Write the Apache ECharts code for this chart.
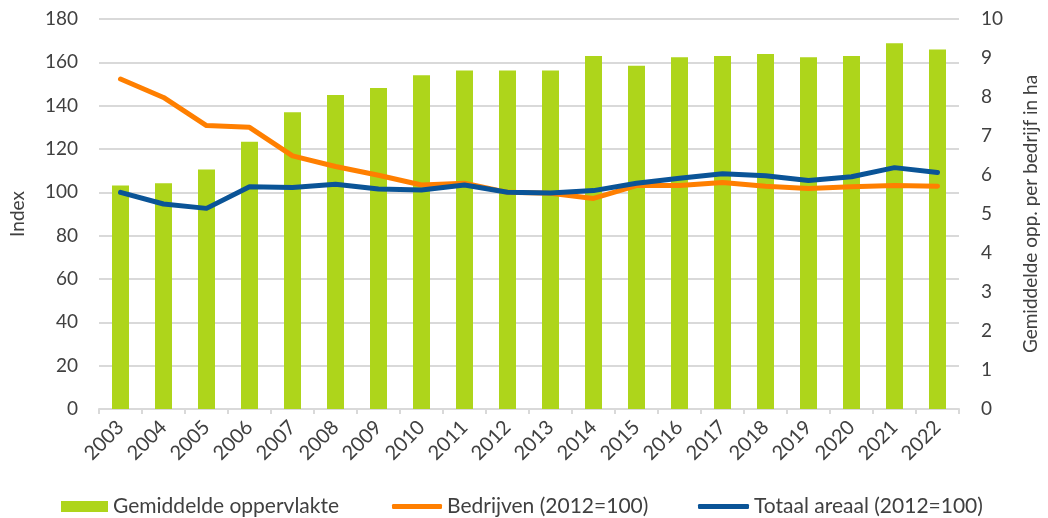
<!DOCTYPE html>
<html>
<head>
<meta charset="utf-8">
<script src="https://cdn.jsdelivr.net/npm/echarts@6/dist/echarts.min.js"></script>
<style>
  html, body { margin: 0; padding: 0; background: #fff; }
  #chart { width: 1048px; height: 518px; }
</style>
</head>
<body>
<div id="chart"></div>
<script>
// Years on the category axis
const years = ['2003','2004','2005','2006','2007','2008','2009','2010','2011','2012',
               '2013','2014','2015','2016','2017','2018','2019','2020','2021','2022'];

// Average area per farm in hectares (right axis)
const gemiddeldeOppervlakte = [5.73, 5.79, 6.14, 6.85, 7.61, 8.05, 8.23, 8.56, 8.68, 8.68,
                               8.68, 9.05, 8.80, 9.02, 9.05, 9.10, 9.02, 9.05, 9.38, 9.22];

// Number of farms, index 2012 = 100 (left axis)
const bedrijven = [152.3, 143.8, 130.8, 130.0, 116.8, 111.9, 107.9, 103.4, 104.2, 100.0,
                   99.6, 97.2, 103.1, 103.1, 104.5, 102.8, 101.8, 102.6, 103.2, 102.8];

// Total area, index 2012 = 100 (left axis)
const totaalAreaal = [100.0, 94.6, 92.6, 102.6, 102.2, 103.7, 101.5, 101.1, 103.4, 100.0,
                      99.7, 100.8, 104.2, 106.5, 108.6, 107.7, 105.5, 107.2, 111.4, 109.2];

const textColor = '#404040';
const fontFamily = 'Lato, "Open Sans", sans-serif';
const green = '#AED51B';
const orange = '#FF7F00';
const blue = '#0A5497';

const chart = echarts.init(document.getElementById('chart'), null, { renderer: 'canvas' });

const legendText = { color: textColor, fontSize: 21, fontFamily: fontFamily };

chart.setOption({
  animation: false,
  textStyle: { fontFamily: fontFamily, color: textColor },
  grid: { left: 97, right: 85, top: 19, bottom: 109, containLabel: false },
  legend: [
    { data: [{ name: 'Gemiddelde oppervlakte', icon: 'rect' }], left: 56, top: 491,
      itemWidth: 47, itemHeight: 11, textStyle: legendText },
    { data: [{ name: 'Bedrijven (2012=100)', icon: 'roundRect' }], left: 387, top: 491,
      itemWidth: 50, itemHeight: 5, textStyle: legendText },
    { data: [{ name: 'Totaal areaal (2012=100)', icon: 'roundRect' }], left: 693, top: 491,
      itemWidth: 51, itemHeight: 5, textStyle: legendText }
  ],
  xAxis: {
    type: 'category',
    data: years,
    boundaryGap: true,
    axisLine: { show: true, lineStyle: { color: '#D9D9D9', width: 2 } },
    axisTick: { show: true, length: 5, lineStyle: { color: '#D9D9D9', width: 2 } },
    axisLabel: { rotate: 45, color: textColor, fontSize: 20, margin: 15, interval: 0 }
  },
  yAxis: [
    {
      type: 'value', min: 0, max: 180, interval: 20, position: 'left',
      name: 'Index', nameLocation: 'middle', nameGap: 72, nameRotate: 90,
      nameTextStyle: { color: textColor, fontSize: 19 },
      axisLine: { show: false }, axisTick: { show: false },
      axisLabel: { color: textColor, fontSize: 19, margin: 21 },
      splitLine: { show: true, lineStyle: { color: '#D9D9D9', width: 2 } }
    },
    {
      type: 'value', min: 0, max: 10, interval: 1, position: 'right',
      name: 'Gemiddelde opp. per bedrijf in ha', nameLocation: 'middle', nameGap: 62, nameRotate: 90,
      nameTextStyle: { color: textColor, fontSize: 19 },
      axisLine: { show: false }, axisTick: { show: false },
      axisLabel: { color: textColor, fontSize: 19, margin: 22 },
      splitLine: { show: false }
    }
  ],
  series: [
    {
      name: 'Gemiddelde oppervlakte', type: 'bar', yAxisIndex: 1,
      data: gemiddeldeOppervlakte, barWidth: 17,
      itemStyle: { color: green }
    },
    {
      name: 'Bedrijven (2012=100)', type: 'line', yAxisIndex: 0,
      data: bedrijven, showSymbol: false, symbol: 'none',
      lineStyle: { color: orange, width: 5, cap: 'round', join: 'round' },
      itemStyle: { color: orange }
    },
    {
      name: 'Totaal areaal (2012=100)', type: 'line', yAxisIndex: 0,
      data: totaalAreaal, showSymbol: false, symbol: 'none',
      lineStyle: { color: blue, width: 5, cap: 'round', join: 'round' },
      itemStyle: { color: blue }
    }
  ]
});
</script>
</body>
</html>
